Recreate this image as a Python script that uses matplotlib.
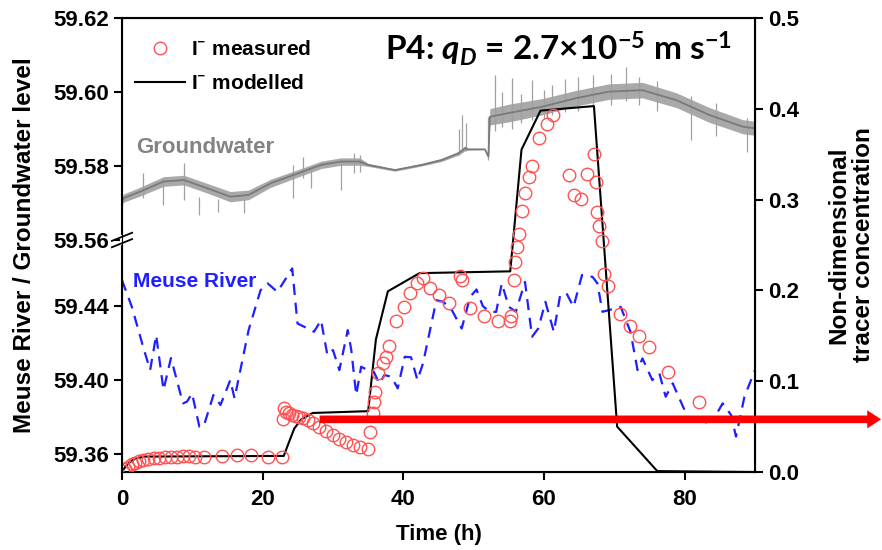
import numpy as np
import matplotlib
matplotlib.use("Agg")
import matplotlib.pyplot as plt
from matplotlib.lines import Line2D

plt.rcParams['font.family'] = ['Liberation Sans', 'DejaVu Sans']
plt.rcParams['font.weight'] = 'bold'
plt.rcParams['axes.labelweight'] = 'bold'
plt.rcParams['mathtext.fontset'] = 'custom'
plt.rcParams['mathtext.rm'] = 'Lato:bold'
plt.rcParams['mathtext.it'] = 'Lato:bold:italic'
plt.rcParams['mathtext.bf'] = 'Lato:bold'

# ---- data ----
# I- measured (non-dimensional concentration)
meas_t = [0.1, 0.43, 0.9, 1.38, 1.86, 2.48, 3.05, 3.76, 4.48, 5.33, 6.14, 6.95, 7.8,
          8.67, 9.48, 10.4, 11.6, 14.2, 16.4, 18.3, 20.7, 22.8,
          22.95, 23.05, 23.3, 23.76, 24.24, 24.7, 25.2, 25.8, 26.4, 27.1, 28.05, 29.0,
          29.95, 30.9, 31.9, 32.8, 33.8, 34.95, 35.2, 35.7, 35.9, 36.0, 36.4, 37.1,
          37.5, 37.9, 39.0, 40.1, 40.9, 41.9, 42.8, 43.8, 45.0, 46.5, 48.1, 48.3,
          49.5, 51.5, 53.4, 55.2, 55.3, 55.7, 55.9, 56.1, 56.4, 56.9, 57.3, 57.9,
          58.3, 59.3, 60.4, 61.3, 63.6, 64.3, 65.3, 66.1, 67.1, 67.4, 67.6, 67.8,
          68.2, 68.6, 69.1, 70.8, 72.2, 73.5, 74.9, 77.7, 82.0]
meas_c = [0.001, 0.003, 0.006, 0.0085, 0.0103, 0.0118, 0.0132, 0.0143, 0.015, 0.0158,
          0.0162, 0.0166, 0.017, 0.0173, 0.0177, 0.017, 0.0166, 0.0177, 0.0188, 0.0188,
          0.017, 0.0166,
          0.058, 0.0703, 0.0666, 0.0648, 0.0629, 0.0618, 0.061, 0.0592, 0.0574, 0.0545,
          0.05, 0.0456, 0.0408, 0.0364, 0.0328, 0.0298, 0.028, 0.0251, 0.0445, 0.0648,
          0.0776, 0.0886, 0.109, 0.12, 0.127, 0.139, 0.166, 0.182, 0.197, 0.208, 0.214,
          0.203, 0.195, 0.186, 0.216, 0.211, 0.181, 0.172, 0.166, 0.166, 0.172, 0.211,
          0.231, 0.248, 0.262, 0.287, 0.307, 0.325, 0.337, 0.368, 0.383, 0.393, 0.327,
          0.305, 0.301, 0.328, 0.35, 0.319, 0.286, 0.271, 0.254, 0.218, 0.205, 0.174,
          0.161, 0.15, 0.138, 0.11, 0.0776]

# I- modelled
model_t = [0, 0.5, 1, 1.5, 2, 3.3, 23.0, 23.6, 24.5, 25.5, 27.1, 35.0, 36.1, 37.8,
           42.3, 55.2, 56.8, 59.5, 67.1, 70.4, 76.1, 90]
model_c = [0, 0.006, 0.010, 0.013, 0.015, 0.017, 0.0177, 0.03, 0.048, 0.058, 0.065,
           0.067, 0.146, 0.199, 0.219, 0.221, 0.355, 0.398, 0.403, 0.050, 0.001, 0.0]

# Meuse River level (m)
meuse_t = [0.0, 1.4, 3.0, 4.0, 4.86, 5.9, 6.96, 8.67, 9.24, 9.96, 11.0, 11.6, 13.0,
           14.0, 15.4, 16.0, 18.0, 19.7, 20.7, 22.1, 24.2, 24.95, 26.4, 27.3, 28.3,
           29.2, 30.0, 30.9, 32.1, 32.6, 33.3, 34.0, 34.95, 35.8, 36.6, 37.3, 38.3,
           39.2, 40.2, 41.1, 42.0, 42.8, 44.0, 44.7, 45.7, 46.9, 48.3, 49.5, 50.4,
           51.3, 52.3, 53.2, 54.0, 55.0, 56.0, 57.3, 58.3, 59.2, 60.2, 61.4, 62.3,
           63.2, 64.2, 65.4, 66.9, 67.6, 68.3, 69.2, 70.9, 72.3, 73.3, 74.0, 75.4,
           76.4, 77.3, 78.3, 80.4, 82.3, 84.0, 85.4, 86.6, 87.3, 88.5, 90.0]
meuse_lv = [59.454, 59.4396, 59.418, 59.4054, 59.4243, 59.3946, 59.4119, 59.3874,
            59.3883, 59.3928, 59.3748, 59.3748, 59.3919, 59.3865, 59.400, 59.3901,
            59.427, 59.4486, 59.4523, 59.4477, 59.4604, 59.4306, 59.4279, 59.4261,
            59.4324, 59.4135, 59.4162, 59.4054, 59.427, 59.4162, 59.3919, 59.4072,
            59.4054, 59.4045, 59.398, 59.4027, 59.4018, 59.3955, 59.4126, 59.4123,
            59.400, 59.409, 59.4307, 59.4432, 59.4423, 59.4378, 59.4279, 59.445,
            59.449, 59.440, 59.4369, 59.4369, 59.4523, 59.4396, 59.437, 59.4531,
            59.4234, 59.428, 59.4423, 59.4261, 59.446, 59.4469, 59.4396, 59.4568,
            59.4558, 59.4523, 59.4369, 59.4378, 59.4396, 59.4261, 59.4054, 59.4117,
            59.400, 59.4036, 59.391, 59.3982, 59.3802, 59.3766, 59.378, 59.3874,
            59.3811, 59.3694, 59.391, 59.4054]

# Groundwater level (m): centre line and half-width of the noisy band
gw_t = [0.0, 0.2, 2.6, 5.9, 8.8, 12.1, 15.4, 18.0, 21.1, 25.0, 28.3, 31.1, 33.8,
        35.0, 38.8, 42.6, 45.4, 47.8, 48.8, 49.2, 51.6, 52.1, 52.3, 54.95, 59.7,
        64.5, 69.2, 74.0, 78.8, 83.5, 88.3, 90.0]
gw_lv = [59.5704, 59.5713, 59.5731, 59.5758, 59.5762, 59.574, 59.5717, 59.5722,
         59.5753, 59.578, 59.5803, 59.5812, 59.5812, 59.5803, 59.5789, 59.5803,
         59.5816, 59.5834, 59.5848, 59.5845, 59.5845, 59.5825, 59.5933, 59.5943,
         59.596, 59.5983, 59.6001, 59.6005, 59.5978, 59.5938, 59.5906, 59.5902]
gw_hw = [0.0011, 0.0011, 0.0012, 0.0013, 0.0013, 0.0013, 0.0014, 0.0013, 0.0011,
         0.0010, 0.0010, 0.0010, 0.0010, 0.0004, 0.0003, 0.0003, 0.0004, 0.0005,
         0.0007, 0.0002, 0.0001, 0.0005, 0.0022, 0.0024, 0.0022, 0.0021, 0.0021,
         0.0021, 0.0020, 0.0020, 0.0019, 0.0019]
# single spikes in the groundwater record: time, low, high
spike_t = [3.05, 5.9, 8.8, 11.0, 13.6, 17.4, 24.3, 25.7, 26.9, 31.1, 33.0, 33.9,
           47.9, 48.4, 48.9, 52.1, 53.0, 54.0, 55.4, 56.7, 58.3, 60.0, 61.1, 63.0,
           64.8, 67.0, 69.5, 71.7, 73.5, 76.0, 80.9, 84.5, 88.8]
spike_lo = [59.5714, 59.5695, 59.5708, 59.5668, 59.5676, 59.5673, 59.5714, 59.5767,
            59.574, 59.5735, 59.578, 59.5785, 59.5830, 59.5838, 59.5840, 59.5816,
            59.5895, 59.5905, 59.5900, 59.5915, 59.5925, 59.5930, 59.5938, 59.5945,
            59.5950, 59.5960, 59.5965, 59.5975, 59.5965, 59.5950, 59.5870, 59.5880,
            59.5838]
spike_hi = [59.5781, 59.5762, 59.5808, 59.5716, 59.571, 59.571, 59.5803, 59.5824,
            59.5789, 59.5816, 59.5835, 59.5830, 59.5900, 59.5938, 59.5915, 59.5933,
            59.6046, 59.6000, 59.6038, 59.5995, 59.6032, 59.6005, 59.6020, 59.6035,
            59.6040, 59.6045, 59.6050, 59.6068, 59.6040, 59.6030, 59.5990, 59.5970,
            59.5930]

x_ticks = [0, 20, 40, 60, 80]
left_ticks = [59.36, 59.40, 59.44, 59.56, 59.58, 59.60, 59.62]
right_ticks = [0.0, 0.1, 0.2, 0.3, 0.4, 0.5]

# broken left axis: lower part 59.35-59.476, upper part 59.56-59.62
lv_pts = [59.35027, 59.4757, 59.56, 59.62]
px_pts = [0.0, 231.9, 232.0, 454.0]


def fwd(v):
    return np.interp(v, lv_pts, px_pts)


def inv(p):
    return np.interp(p, px_pts, lv_pts)


fig = plt.figure(figsize=(8.82, 5.5), dpi=100)
ax = fig.add_axes([122 / 882, 1 - 472 / 550, 633 / 882, 454 / 550])
ax.set_yscale('function', functions=(fwd, inv))
ax.set_ylim(lv_pts[0], lv_pts[-1])
ax.set_xlim(0, 90)

gw_lo = np.array(gw_lv) - np.array(gw_hw)
gw_hi = np.array(gw_lv) + np.array(gw_hw)
ax.vlines(spike_t, spike_lo, spike_hi, color='#a0a0a0', lw=0.9)
ax.fill_between(gw_t, gw_lo, gw_hi, color='#9a9a9a', lw=0, alpha=0.85)
ax.plot(gw_t, gw_lv, color='#7a7a7a', lw=1.3)
ax.plot(meuse_t, meuse_lv, color='#1f1fff', lw=1.6, dashes=(5, 3.5))

ax.text(2.0, 59.5851, 'Groundwater', color='#838383', fontsize=16,
        fontweight='bold', va='center')
ax.text(1.6, 59.4535, 'Meuse River', color='#1f1fff', fontsize=15,
        fontweight='bold', va='center')

ax.set_yticks(left_ticks)
ax.set_yticklabels(['%.2f' % v for v in left_ticks])
ax.yaxis.set_minor_locator(matplotlib.ticker.NullLocator())
ax.set_xticks(x_ticks)
ax.tick_params(labelsize=16, width=1.5, length=6)
ax.tick_params(axis='x', pad=6)
ax.set_xlabel('Time (h)', fontsize=16, labelpad=10)
ax.set_ylabel('Meuse River / Groundwater level', fontsize=17.5, labelpad=12)
for s in ax.spines.values():
    s.set_linewidth(1.5)

ax2 = ax.twinx()
ax2.set_ylim(0, 0.5)
ax2.set_yticks(right_ticks)
ax2.set_yticklabels(['%.1f' % v for v in right_ticks])
ax2.tick_params(labelsize=16, width=1.5, length=6)
ax2.set_ylabel('Non-dimensional\ntracer concentration', fontsize=17.5,
               labelpad=20, linespacing=1.1)
ax2.plot(model_t, model_c, color='black', lw=1.5)
ax2.plot(meas_t, meas_c, ls='none', marker='o', ms=9, mfc='none',
         mec='#ff5252', mew=1.0)

# break marks on left spine
yb = 232.0 / 454.0
kw = dict(transform=ax.transAxes, clip_on=False, zorder=10)
ax.plot([0, 0], [yb - 0.006, yb + 0.006], color='white', lw=3, **kw)
for dy in (-0.007, 0.007):
    ax.plot([-0.016, 0.016], [yb + dy - 0.009, yb + dy + 0.009], color='black',
            lw=1.3, **kw)

handles = [Line2D([], [], ls='none', marker='o', ms=9, mfc='none', mec='#ff5252', mew=1.0),
           Line2D([], [], color='black', lw=1.5)]
ax2.legend(handles, [r'I$^{-}$ measured', r'I$^{-}$ modelled'], loc='upper left',
           bbox_to_anchor=(0.0, 0.978), frameon=False, fontsize=15,
           handlelength=2.4, handletextpad=0.3, labelspacing=0.72, borderaxespad=0.2)

ax2.text(0.415, 0.933, r'P4: $q_D$ = 2.7×10$^{-5}$ m s$^{-1}$', family='Lato',
         fontweight='bold', transform=ax2.transAxes, fontsize=24, va='center', ha='left')

ax2.annotate('', xy=(0.999, 0.058), xycoords=('figure fraction', 'data'),
             xytext=(28.1, 0.058), textcoords='data',
             arrowprops=dict(arrowstyle='simple,head_width=1.3,head_length=1.0,tail_width=0.55',
                             mutation_scale=10, fc='red', ec='none', lw=0,
                             shrinkA=0, shrinkB=0),
             annotation_clip=False, zorder=20)

fig.savefig('out.png', dpi=100)
